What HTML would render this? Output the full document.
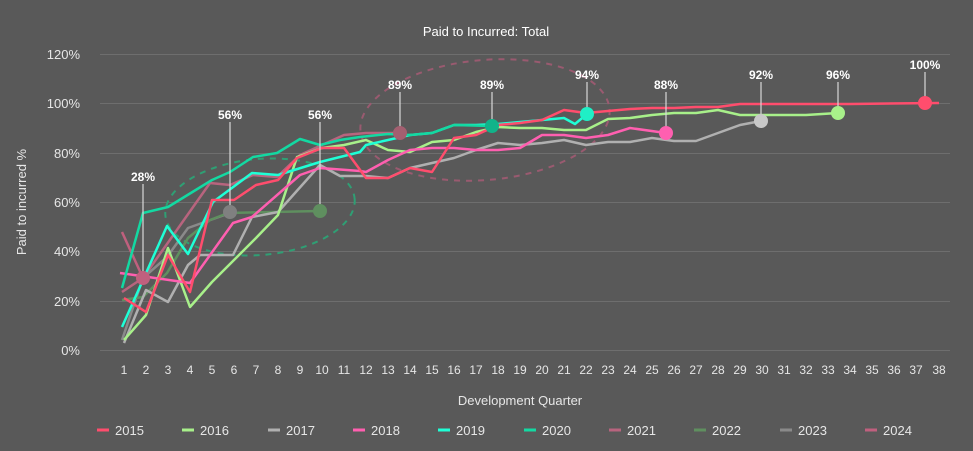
<!DOCTYPE html>
<html><head><meta charset="utf-8"><style>
body{margin:0;background:#595959;}
svg{display:block;font-family:"Liberation Sans",sans-serif;}
</style></head><body>
<svg width="973" height="451" viewBox="0 0 973 451">
<rect width="973" height="451" fill="#595959"/>
<text x="486" y="36" fill="#fff" font-size="13" text-anchor="middle">Paid to Incurred: Total</text>
<g stroke="#6e6e6e" stroke-width="1">
<line x1="100" x2="950" y1="54.5" y2="54.5"/><line x1="100" x2="950" y1="103.5" y2="103.5"/>
<line x1="100" x2="950" y1="153.5" y2="153.5"/><line x1="100" x2="950" y1="202.5" y2="202.5"/>
<line x1="100" x2="950" y1="251.5" y2="251.5"/><line x1="100" x2="950" y1="301.5" y2="301.5"/>
<line x1="100" x2="950" y1="350.5" y2="350.5"/>
</g>
<g fill="#e6e6e6" font-size="13" text-anchor="end">
<text x="80" y="59">120%</text><text x="80" y="108">100%</text><text x="80" y="158">80%</text>
<text x="80" y="207">60%</text><text x="80" y="256">40%</text><text x="80" y="306">20%</text><text x="80" y="355">0%</text>
</g>
<text transform="translate(26,202) rotate(-90)" fill="#e6e6e6" font-size="13" text-anchor="middle">Paid to incurred %</text>
<g fill="#e6e6e6" font-size="12" text-anchor="middle" id="xt"></g>
<text x="520" y="405" fill="#e6e6e6" font-size="13" text-anchor="middle">Development Quarter</text>
<ellipse cx="260" cy="207" rx="95" ry="48" fill="none" stroke="#2f9f74" stroke-width="2" stroke-dasharray="6,6" transform="rotate(-5 260 207)"/>
<ellipse cx="485" cy="120" rx="125" ry="60" fill="none" stroke="#9a5a70" stroke-width="2" stroke-dasharray="6,6" transform="rotate(-5 485 120)"/>
<g fill="none" stroke-width="2.5" stroke-linejoin="round">
<polyline stroke="#8a8a8a" points="122,340 143,278 167,257 188,228 230,213"/>
<polyline stroke="#5f8f5f" points="122,300 143,297 167,273 188,238 210,220 228,213 320,211"/>
<polyline stroke="#c0607e" points="122,232 143,278"/>
<polyline stroke="#b8647e" points="122,292 143,278 210,183 230,185 253,175 277,177 300,155 322,145 344,135 366,133 400,133"/>
<polyline stroke="#b0b0b0" points="124,343 146,290 168,302 188,265 200,255 233,255 252,217 278,212 320,165 340,176 366,176 388,178 410,168 432,163 454,158 476,150 498,143 520,145 542,143 564,140 586,145 608,142 630,142 652,138 674,141 696,141 718,133 740,125 761,121"/>
<polyline stroke="#a8f08a" points="124,340 146,315 168,248 190,307 212,282 234,260 256,238 278,215 297,157 322,148 344,145 366,140 388,150 410,152 432,142 454,140 476,132 498,127 520,128 542,128 564,130 586,130 608,119 630,118 652,115 674,113 696,113 718,110 740,115 762,115 784,115 806,115 838,113"/>
<polyline stroke="#ff5fb0" points="120,273 190,283 233,223 252,217 300,175 320,168 360,171 366,172 388,160 410,150 432,148 454,148 476,150 498,150 520,148 542,135 564,135 586,138 608,135 630,128 666,133"/>
<polyline stroke="#1fffd6" points="122,327 167,226 188,254 213,202 252,173 278,175 320,162 360,152 366,145 388,140 410,135 432,133 454,125 476,125 498,124 520,122 542,120 564,118 575,124 587,114"/>
<polyline stroke="#13d9a2" points="122,288 143,213 168,207 212,180 230,172 253,157 277,153 300,139 320,145 340,140 360,137 388,134 410,135 432,133 454,125 492,126"/>
<polyline stroke="#ff4d6d" points="124,298 146,312 168,255 190,292 212,200 234,200 256,185 278,180 297,158 322,148 344,148 366,178 388,178 410,168 432,172 454,138 476,135 498,125 520,123 542,120 564,110 586,113 608,111 630,109 652,108 674,108 696,107 718,107 740,104 784,104 850,104 939,103"/>
</g>
<g stroke="#d8d8d8" stroke-width="1.2">
<line x1="143" y1="184" x2="143" y2="278"/><line x1="230" y1="122" x2="230" y2="212"/><line x1="320" y1="122" x2="320" y2="211"/>
<line x1="400" y1="92" x2="400" y2="133"/><line x1="492" y1="92" x2="492" y2="126"/><line x1="587" y1="82" x2="587" y2="114"/>
<line x1="666" y1="92" x2="666" y2="133"/><line x1="761" y1="82" x2="761" y2="121"/><line x1="838" y1="82" x2="838" y2="113"/><line x1="925" y1="72" x2="925" y2="103"/>
</g>
<circle cx="143" cy="278" r="7" fill="#c0607e"/><circle cx="230" cy="212" r="7" fill="#808080"/><circle cx="320" cy="211" r="7" fill="#5f8f5f"/>
<circle cx="400" cy="133" r="7" fill="#a35f70"/><circle cx="492" cy="126" r="7" fill="#12b38a"/><circle cx="587" cy="114" r="7" fill="#1fefc6"/>
<circle cx="666" cy="133" r="7" fill="#ff5fb0"/><circle cx="761" cy="121" r="7" fill="#c8c8c8"/><circle cx="838" cy="113" r="7" fill="#a8f08a"/><circle cx="925" cy="103" r="7" fill="#ff4d6d"/>
<g fill="#fff" font-size="12" font-weight="bold" text-anchor="middle">
<text x="143" y="181">28%</text><text x="230" y="119">56%</text><text x="320" y="119">56%</text><text x="400" y="89">89%</text>
<text x="492" y="89">89%</text><text x="587" y="79">94%</text><text x="666" y="89">88%</text><text x="761" y="79">92%</text><text x="838" y="79">96%</text><text x="925" y="69">100%</text>
</g>
<g font-size="13" fill="#e6e6e6" stroke-width="3">
<line x1="97" x2="109" y1="430" y2="430" stroke="#ff4d6d"/><text x="115" y="435">2015</text>
<line x1="182" x2="194" y1="430" y2="430" stroke="#a8f08a"/><text x="200" y="435">2016</text>
<line x1="268" x2="280" y1="430" y2="430" stroke="#b0b0b0"/><text x="286" y="435">2017</text>
<line x1="353" x2="365" y1="430" y2="430" stroke="#ff5fb0"/><text x="371" y="435">2018</text>
<line x1="438" x2="450" y1="430" y2="430" stroke="#1fffd6"/><text x="456" y="435">2019</text>
<line x1="524" x2="536" y1="430" y2="430" stroke="#13d9a2"/><text x="542" y="435">2020</text>
<line x1="609" x2="621" y1="430" y2="430" stroke="#b8647e"/><text x="627" y="435">2021</text>
<line x1="694" x2="706" y1="430" y2="430" stroke="#5f8f5f"/><text x="712" y="435">2022</text>
<line x1="780" x2="792" y1="430" y2="430" stroke="#8a8a8a"/><text x="798" y="435">2023</text>
<line x1="865" x2="877" y1="430" y2="430" stroke="#c0607e"/><text x="883" y="435">2024</text>
</g>
<g fill="#e6e6e6" font-size="12" text-anchor="middle">
<text x="124" y="374">1</text><text x="146" y="374">2</text><text x="168" y="374">3</text><text x="190" y="374">4</text><text x="212" y="374">5</text><text x="234" y="374">6</text><text x="256" y="374">7</text><text x="278" y="374">8</text><text x="300" y="374">9</text><text x="322" y="374">10</text><text x="344" y="374">11</text><text x="366" y="374">12</text><text x="388" y="374">13</text><text x="410" y="374">14</text><text x="432" y="374">15</text><text x="454" y="374">16</text><text x="476" y="374">17</text><text x="498" y="374">18</text><text x="520" y="374">19</text><text x="542" y="374">20</text><text x="564" y="374">21</text><text x="586" y="374">22</text><text x="608" y="374">23</text><text x="630" y="374">24</text><text x="652" y="374">25</text><text x="674" y="374">26</text><text x="696" y="374">27</text><text x="718" y="374">28</text><text x="740" y="374">29</text><text x="762" y="374">30</text><text x="784" y="374">31</text><text x="806" y="374">32</text><text x="828" y="374">33</text><text x="850" y="374">34</text><text x="872" y="374">35</text><text x="894" y="374">36</text><text x="916" y="374">37</text><text x="939" y="374">38</text>
</g>
</svg>
</body></html>
